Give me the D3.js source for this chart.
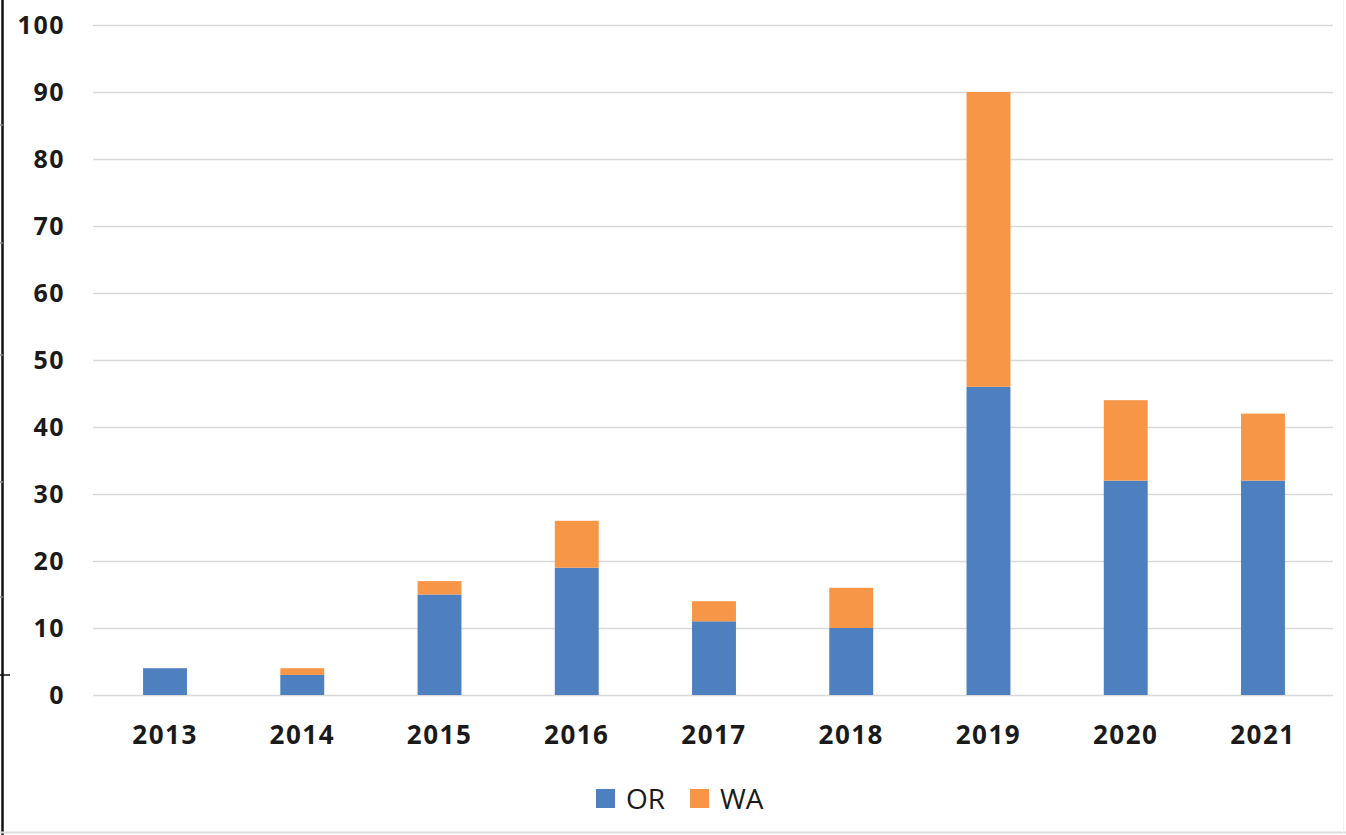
<!DOCTYPE html>
<html><head><meta charset="utf-8">
<script src="https://cdn.jsdelivr.net/npm/d3@7"></script>
<style>html,body{margin:0;padding:0;background:#fff;}svg{display:block;}</style>
</head><body>
<svg id="chart" width="1346" height="835"></svg>
<script>
const years = ["2013","2014","2015","2016","2017","2018","2019","2020","2021"];
const orValues = [4, 3, 15, 19, 11, 10, 46, 32, 32];
const waValues = [0, 1, 2, 7, 3, 6, 44, 12, 10];
const seriesNames = ["OR", "WA"];
const seriesColors = ["#4e80bf", "#f79646"];
const yTicks = [0,10,20,30,40,50,60,70,80,90,100];

const svg = d3.select("#chart");
const W = 1346, H = 835;
const gridL = 93, gridR = 1333;
const y0 = 695, y100 = 25;

svg.append("rect").attr("width", W).attr("height", H).attr("fill", "#fff");

const x = d3.scaleBand().domain(years).range([96.4, 1331.6]).paddingInner(0.68).paddingOuter(0.34);
const y = d3.scaleLinear().domain([0, 100]).range([y0, y100]);

// gridlines + y labels
const yAxis = d3.axisLeft(y).tickValues(yTicks).tickSize(-(gridR - gridL)).tickPadding(28);
const gy = svg.append("g").attr("transform", `translate(${gridL},0)`).call(yAxis);
gy.select(".domain").remove();
gy.selectAll(".tick line").attr("stroke", "#d9d9d9").attr("stroke-width", 1.5);
gy.selectAll(".tick text").attr("font-family", "'Open Sans', sans-serif").attr("font-weight", "bold")
  .attr("font-size", 25).attr("letter-spacing", "1.5px").attr("fill", "#1a1a1a");

// stacked bars
const table = years.map((yr, i) => ({year: yr, OR: orValues[i], WA: waValues[i]}));
const stacked = d3.stack().keys(seriesNames)(table);
svg.append("g").selectAll("g").data(stacked).join("g")
  .attr("fill", (d, i) => seriesColors[i])
  .selectAll("rect").data(d => d).join("rect")
  .attr("x", d => x(d.data.year))
  .attr("width", x.bandwidth())
  .attr("y", d => y(d[1]))
  .attr("height", d => y(d[0]) - y(d[1]));

// x axis labels
const xAxis = d3.axisBottom(x).tickSize(0).tickPadding(31);
const gx = svg.append("g").attr("transform", `translate(0,${y0})`).call(xAxis);
gx.select(".domain").remove();
gx.selectAll(".tick text").attr("font-family", "'Open Sans', sans-serif").attr("font-weight", "bold")
  .attr("font-size", 26).attr("letter-spacing", "1.5px").attr("fill", "#1a1a1a");

// legend
const legend = svg.append("g").attr("transform", "translate(596,798.5)");
const legX = [0, 94];
seriesNames.forEach((name, i) => {
  const g = legend.append("g").attr("transform", `translate(${legX[i]},0)`);
  g.append("rect").attr("x", 0).attr("y", -9.5).attr("width", 19).attr("height", 19).attr("fill", seriesColors[i]);
  g.append("text").attr("x", 30).attr("y", 0).attr("dy", "0.36em")
    .attr("font-family", "'Open Sans', sans-serif").attr("font-size", 28).attr("fill", "#1a1a1a").text(name);
});

// frame
svg.append("line").attr("x1", 2.5).attr("x2", 2.5).attr("y1", 0).attr("y2", H).attr("stroke", "#111").attr("stroke-width", 2.5);
svg.append("line").attr("x1", 0).attr("x2", W).attr("y1", 832.5).attr("y2", 832.5).attr("stroke", "#dcdcdc").attr("stroke-width", 2);
svg.append("line").attr("x1", 1343.5).attr("x2", 1343.5).attr("y1", 0).attr("y2", H).attr("stroke", "#f2f2f2").attr("stroke-width", 1);
[125, 243, 355, 482, 597].forEach(v => {
  svg.append("line").attr("x1", 0).attr("x2", 3).attr("y1", v).attr("y2", v).attr("stroke", "#888").attr("stroke-width", 1.5);
});
svg.append("line").attr("x1", 0).attr("x2", 10).attr("y1", 675).attr("y2", 675).attr("stroke", "#111").attr("stroke-width", 1.5);
</script>
</body></html>
